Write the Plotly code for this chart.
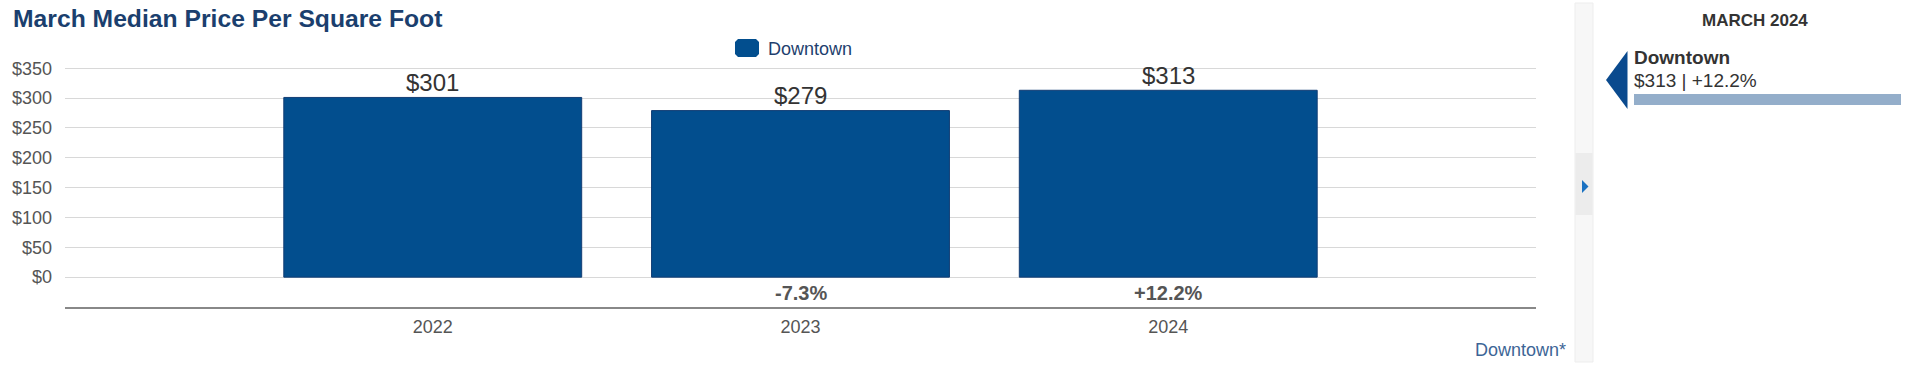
import plotly.graph_objects as go

# ---------------- data ----------------
years = ["2022", "2023", "2024"]
prices = [301, 279, 313]
changes = ["", "-7.3%", "+12.2%"]
ytick_vals = [0, 50, 100, 150, 200, 250, 300, 350]
ytick_text = ["$0", "$50", "$100", "$150", "$200", "$250", "$300", "$350"]
series_name = "Downtown"
chart_title = "March Median Price Per Square Foot"
panel_title = "MARCH 2024"
panel_value = "$313 | +12.2%"

# ---------------- layout geometry (page pixels) ----------------
W, H = 1920, 367
PL, PR, PT, PB = 65, 1536, 67, 307  # plot area in pixels
FONT = "Arial, Liberation Sans, Helvetica, sans-serif"
BAR_COLOR = "#024e8e"


def px(x):
    return (x - PL) / (PR - PL)


def py(y):
    return (PB - y) / (PB - PT)


def path(points):
    return "M " + " L ".join(f"{px(x):.6f},{py(y):.6f}" for x, y in points) + " Z"


fig = go.Figure()
fig.add_trace(go.Bar(
    x=years, y=prices, width=0.81, name=series_name,
    marker=dict(color=BAR_COLOR, line=dict(color="#123d74", width=1)),
    cliponaxis=False, showlegend=False, hoverinfo="skip",
))

annotations = []
# value labels above bars
for i, v in enumerate(prices):
    annotations.append(dict(
        x=i, y=v, xref="x", yref="y", text=f"${v}", showarrow=False,
        font=dict(size=24, color="#333333", family=FONT),
        xanchor="center", yanchor="middle", yshift=15))
# change labels under bars
for i, ch in enumerate(changes):
    if ch:
        annotations.append(dict(
            x=i, y=-26, xref="x", yref="y", text=f"<b>{ch}</b>", showarrow=False,
            font=dict(size=20, color="#555555", family=FONT),
            xanchor="center", yanchor="middle"))

# title
annotations.append(dict(x=px(11), y=py(18), xref="paper", yref="paper",
                        text=f"<b>{chart_title}</b>", showarrow=False,
                        xanchor="left", yanchor="middle",
                        font=dict(size=24.7, color="#1b3f6e", family=FONT)))
# legend text
annotations.append(dict(x=px(766), y=py(49), xref="paper", yref="paper",
                        text=series_name, showarrow=False,
                        xanchor="left", yanchor="middle",
                        font=dict(size=18, color="#1f3f6e", family=FONT)))
# bottom right label
annotations.append(dict(x=px(1568), y=py(350), xref="paper", yref="paper",
                        text=series_name + "*", showarrow=False,
                        xanchor="right", yanchor="middle",
                        font=dict(size=18, color="#3d6596", family=FONT)))
# right panel texts
annotations.append(dict(x=px(1755), y=py(20), xref="paper", yref="paper",
                        text=f"<b>{panel_title}</b>", showarrow=False,
                        xanchor="center", yanchor="middle",
                        font=dict(size=17, color="#333333", family=FONT)))
annotations.append(dict(x=px(1632), y=py(58), xref="paper", yref="paper",
                        text=f"<b>{series_name}</b>", showarrow=False,
                        xanchor="left", yanchor="middle",
                        font=dict(size=19, color="#333333", family=FONT)))
annotations.append(dict(x=px(1632), y=py(80), xref="paper", yref="paper",
                        text=panel_value, showarrow=False,
                        xanchor="left", yanchor="middle",
                        font=dict(size=19, color="#333333", family=FONT)))

shapes = []
# legend swatch (rounded)
x0, x1, y0, y1, r = 735, 759, 39, 57, 3
shapes.append(dict(type="path", xref="paper", yref="paper",
                   path=path([(x0 + r, y0), (x1 - r, y0), (x1, y0 + r), (x1, y1 - r),
                              (x1 - r, y1), (x0 + r, y1), (x0, y1 - r), (x0, y0 + r)]),
                   fillcolor=BAR_COLOR, line=dict(width=0), layer="above"))
# side strip
shapes.append(dict(type="rect", xref="paper", yref="paper",
                   x0=px(1575), x1=px(1593), y0=py(362), y1=py(3),
                   fillcolor="#f7f7f7", line=dict(color="#ededed", width=1)))
shapes.append(dict(type="rect", xref="paper", yref="paper",
                   x0=px(1575.5), x1=px(1592.5), y0=py(215), y1=py(153),
                   fillcolor="#ececec", line=dict(width=0)))
shapes.append(dict(type="path", xref="paper", yref="paper",
                   path=path([(1582, 180), (1588.5, 186.5), (1582, 193)]),
                   fillcolor="#1a72c2", line=dict(width=0)))
# big pointer triangle
shapes.append(dict(type="path", xref="paper", yref="paper",
                   path=path([(1627.5, 51), (1606, 80), (1627.5, 109)]),
                   fillcolor="#0a4a8e", line=dict(width=0)))
# panel bar
shapes.append(dict(type="rect", xref="paper", yref="paper",
                   x0=px(1634), x1=px(1901), y0=py(105), y1=py(94),
                   fillcolor="#94aeca", line=dict(width=0)))

fig.update_layout(
    width=W, height=H,
    margin=dict(l=PL, r=W - PR, t=PT, b=H - PB, autoexpand=False),
    paper_bgcolor="white", plot_bgcolor="white",
    font=dict(family=FONT, color="#555555"),
    showlegend=False,
    xaxis=dict(type="category", range=[-1, 3], showgrid=False, zeroline=False,
               showline=True, linecolor="#888888", linewidth=2, ticks="",
               tickfont=dict(size=18, color="#555555", family=FONT),
               ticklabelstandoff=2, fixedrange=True),
    yaxis=dict(range=[-50, 352], tickvals=ytick_vals, ticktext=ytick_text,
               showgrid=True, gridcolor="#d8d8d8", gridwidth=1, zeroline=False,
               showline=False, ticks="",
               tickfont=dict(size=18, color="#555555", family=FONT),
               ticklabelstandoff=12, fixedrange=True),
    annotations=annotations, shapes=shapes,
    bargap=0.19,
)

fig.write_html("out.html", config={"displayModeBar": False},
               post_script="document.body.style.margin='0';document.body.style.overflow='hidden';")
